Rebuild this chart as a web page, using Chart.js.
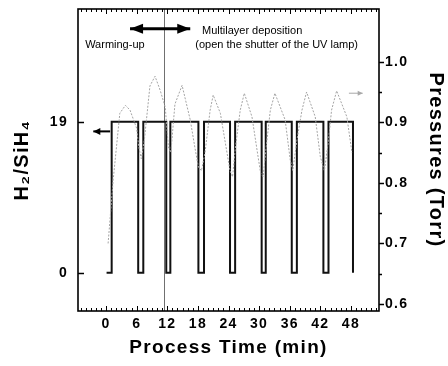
<!DOCTYPE html>
<html>
<head>
<meta charset="utf-8">
<script src="https://cdn.jsdelivr.net/npm/chart.js@4.4.0/dist/chart.umd.min.js"></script>
<style>
  html, body { margin: 0; padding: 0; background: #fff; }
  #wrap { width: 448px; height: 366px; }
</style>
</head>
<body>
<div id="wrap"><canvas id="processChart"></canvas></div>
<script>
// H2/SiH4 flow ratio (left axis), square steps
var ratioTime = [0.1, 1.1, 1.1, 6.3, 6.3, 7.3, 7.3, 11.8, 11.8, 12.6, 12.6, 18.1, 18.1, 19.2, 19.2, 24.3, 24.3,
                 25.3, 25.3, 30.5, 30.5, 31.3, 31.3, 36.4, 36.4, 37.4, 37.4, 42.6, 42.6, 43.6, 43.6, 48.4, 48.4];
var ratioValue = [0, 0, 19, 19, 0, 0, 19, 19, 0, 0, 19, 19, 0, 0, 19, 19, 0,
                  0, 19, 19, 0, 0, 19, 19, 0, 0, 19, 19, 0, 0, 19, 19, 0];

// chamber pressure in Torr (right axis), grey dotted trace
var pressureTime = [0.4, 1.4, 2.7, 3.8, 4.7, 6.0, 6.4, 6.9, 7.5, 8.6,
                    9.6, 10.6, 11.6, 12.2, 12.7, 13.5, 14.9, 16.5, 17.5, 18.1,
                    18.7, 19.4, 20.4, 21.0, 22.4, 23.7, 24.3, 24.8, 25.3, 26.3,
                    27.1, 28.6, 29.8, 30.3, 30.8, 31.4, 32.2, 33.1, 35.1, 36.1,
                    36.6, 37.4, 38.4, 39.3, 41.0, 42.0, 42.8, 43.6, 44.2, 45.2,
                    47.2, 48.2];
var pressureValue = [0.70, 0.805, 0.915, 0.928, 0.92, 0.89, 0.86, 0.84, 0.87, 0.96,
                     0.976, 0.953, 0.925, 0.86, 0.85, 0.93, 0.961, 0.904, 0.854, 0.826,
                     0.82, 0.85, 0.92, 0.945, 0.915, 0.85, 0.82, 0.81, 0.854, 0.92,
                     0.948, 0.909, 0.843, 0.816, 0.81, 0.86, 0.92, 0.948, 0.904, 0.838,
                     0.82, 0.87, 0.92, 0.95, 0.909, 0.843, 0.82, 0.87, 0.92, 0.952,
                     0.909, 0.85];

var timeTicks = [0, 6, 12, 18, 24, 30, 36, 42, 48];
var ratioTicks = [0, 19];
var pressureTicks = [0.6, 0.7, 0.8, 0.9, 1.0];
var phaseBoundary = 11.4;   // end of warming-up

var FONT = '"Liberation Sans", Arial, sans-serif';

function toPoints(xs, ys) {
  var out = [];
  for (var i = 0; i < xs.length; i++) out.push({x: xs[i], y: ys[i]});
  return out;
}

function arrow(ctx, x1, y1, x2, y2, headLen, headHalf, both) {
  var ang = Math.atan2(y2 - y1, x2 - x1);
  function head(x, y, a) {
    ctx.beginPath();
    ctx.moveTo(x, y);
    ctx.lineTo(x - headLen * Math.cos(a) - headHalf * Math.sin(a), y - headLen * Math.sin(a) + headHalf * Math.cos(a));
    ctx.lineTo(x - headLen * Math.cos(a) + headHalf * Math.sin(a), y - headLen * Math.sin(a) - headHalf * Math.cos(a));
    ctx.closePath();
    ctx.fill();
  }
  ctx.beginPath();
  ctx.moveTo(x1, y1);
  ctx.lineTo(x2, y2);
  ctx.stroke();
  head(x2, y2, ang);
  if (both) head(x1, y1, ang + Math.PI);
}

// no extra label padding around the plot box
function noPad(s) {
  s.paddingTop = 0; s.paddingBottom = 0; s.paddingLeft = 0; s.paddingRight = 0;
}

var decorPlugin = {
  id: 'decor',
  beforeDraw: function(chart) {
    chart.ctx.letterSpacing = '1.3px';
  },
  beforeDatasetsDraw: function(chart) {
    var ctx = chart.ctx, a = chart.chartArea;
    var bx = Math.round(chart.scales.x.getPixelForValue(phaseBoundary)) + 0.5;
    ctx.save();
    ctx.strokeStyle = '#707070';
    ctx.lineWidth = 1;
    ctx.beginPath();
    ctx.moveTo(bx, a.top);
    ctx.lineTo(bx, a.bottom);
    ctx.stroke();
    ctx.restore();
  },
  afterDraw: function(chart) {
    var ctx = chart.ctx, a = chart.chartArea;
    var xs = chart.scales.x, ys = chart.scales.y, ps = chart.scales.y2;
    ctx.save();
    ctx.letterSpacing = '0px';

    // frame
    ctx.strokeStyle = '#000';
    ctx.lineWidth = 1.6;
    ctx.strokeRect(a.left, a.top, a.right - a.left, a.bottom - a.top);

    // minor / major ticks on top and bottom, pointing inward
    ctx.lineWidth = 1;
    for (var m = -5; m <= 53; m++) {
      var px = Math.round(xs.getPixelForValue(m)) + 0.5;
      var len = (m % 6 === 0 && m >= 0 && m <= 48) ? 5 : 3;
      ctx.beginPath();
      ctx.moveTo(px, a.bottom); ctx.lineTo(px, a.bottom - len);
      ctx.moveTo(px, a.top); ctx.lineTo(px, a.top + len);
      ctx.stroke();
    }
    // left ticks inward
    ctx.lineWidth = 1.5;
    ratioTicks.forEach(function(v) {
      var py = Math.round(ys.getPixelForValue(v)) + 0.5;
      ctx.beginPath(); ctx.moveTo(a.left, py); ctx.lineTo(a.left + 6, py); ctx.stroke();
    });
    // right ticks outward
    for (var k = 0; k <= 8; k++) {
      var pv = 0.6 + k * 0.05;
      var py2 = Math.round(ps.getPixelForValue(pv)) + 0.5;
      var l2 = (k % 2 === 0) ? 5 : 3;
      ctx.beginPath(); ctx.moveTo(a.right, py2); ctx.lineTo(a.right + l2, py2); ctx.stroke();
    }

    // double arrow for the deposition phase
    ctx.fillStyle = '#000';
    ctx.strokeStyle = '#000';
    ctx.lineWidth = 3;
    var ay = ys.getPixelForValue(30.7);
    arrow(ctx, xs.getPixelForValue(4.7), ay, xs.getPixelForValue(16.5), ay, 13, 5, true);

    // arrow pointing to the left axis
    ctx.lineWidth = 2;
    var ly = ys.getPixelForValue(17.8);
    arrow(ctx, xs.getPixelForValue(0.8), ly, xs.getPixelForValue(-2.5), ly, 7, 3.5, false);

    // grey arrow pointing to the right axis
    ctx.strokeStyle = '#a8a8a8';
    ctx.fillStyle = '#a8a8a8';
    ctx.lineWidth = 1;
    var ry = ps.getPixelForValue(0.948);
    arrow(ctx, xs.getPixelForValue(47.6), ry, xs.getPixelForValue(50.3), ry, 5, 2.5, false);

    // phase labels
    ctx.fillStyle = '#000';
    ctx.font = '11px ' + FONT;
    ctx.textBaseline = 'middle';
    ctx.textAlign = 'left';
    ctx.fillText('Warming-up', xs.getPixelForValue(-4.1), ys.getPixelForValue(28.7));
    ctx.fillText('Multilayer deposition', xs.getPixelForValue(18.8), ys.getPixelForValue(30.4));
    ctx.fillText('(open the shutter of the UV lamp)', xs.getPixelForValue(17.5), ys.getPixelForValue(28.7));
    ctx.restore();
  }
};

var ctx = document.getElementById('processChart');
new Chart(ctx, {
  type: 'line',
  data: {
    datasets: [
      {
        label: 'Pressure',
        data: toPoints(pressureTime, pressureValue),
        yAxisID: 'y2',
        borderColor: '#a4a4a4',
        borderWidth: 1,
        borderDash: [2, 1.5],
        pointRadius: 0,
        tension: 0,
        fill: false
      },
      {
        label: 'H2/SiH4',
        data: toPoints(ratioTime, ratioValue),
        yAxisID: 'y',
        borderColor: '#111',
        borderWidth: 2,
        pointRadius: 0,
        tension: 0,
        fill: false
      }
    ]
  },
  options: {
    responsive: true,
    maintainAspectRatio: false,
    animation: false,
    layout: { padding: { top: 9, left: 0, right: 0, bottom: 0 } },
    plugins: {
      legend: { display: false },
      tooltip: { enabled: false }
    },
    scales: {
      x: {
        type: 'linear',
        position: 'bottom',
        min: -5.5,
        max: 53.5,
        afterBuildTicks: function(s) { s.ticks = timeTicks.map(function(v) { return {value: v}; }); },
        afterFit: function(s) { s.height = 55; noPad(s); },
        grid: { display: false, drawTicks: false },
        border: { display: false },
        ticks: { color: '#000', padding: 5, maxRotation: 0, font: { family: FONT, size: 14, weight: 'bold' } },
        title: {
          display: true,
          text: 'Process Time (min)',
          color: '#000',
          padding: { top: 0, bottom: 7 },
          font: { family: FONT, size: 19, weight: 'bold' }
        }
      },
      y: {
        type: 'linear',
        position: 'left',
        min: -4.8,
        max: 33.2,
        afterBuildTicks: function(s) { s.ticks = ratioTicks.map(function(v) { return {value: v}; }); },
        afterFit: function(s) { s.width = 78; noPad(s); },
        grid: { display: false, drawTicks: false },
        border: { display: false },
        ticks: { color: '#000', padding: 10, font: { family: FONT, size: 14, weight: 'bold' } },
        title: {
          display: true,
          text: 'H\u2082/SiH\u2084',
          color: '#000',
          padding: { top: 10, bottom: 0 },
          font: { family: FONT, size: 20, weight: 'bold' }
        }
      },
      y2: {
        type: 'linear',
        position: 'right',
        min: 0.5885,
        max: 1.087,
        afterBuildTicks: function(s) { s.ticks = pressureTicks.map(function(v) { return {value: v}; }); },
        afterFit: function(s) { s.width = 69; noPad(s); },
        grid: { display: false, drawTicks: false },
        border: { display: false },
        ticks: {
          color: '#000',
          padding: 6,
          font: { family: FONT, size: 14, weight: 'bold' },
          callback: function(v) { return v.toFixed(1); }
        },
        title: {
          display: true,
          text: 'Pressures (Torr)',
          color: '#000',
          padding: { top: 0, bottom: 0 },
          font: { family: FONT, size: 20, weight: 'bold' }
        }
      }
    }
  },
  plugins: [decorPlugin]
});
</script>
</body>
</html>
